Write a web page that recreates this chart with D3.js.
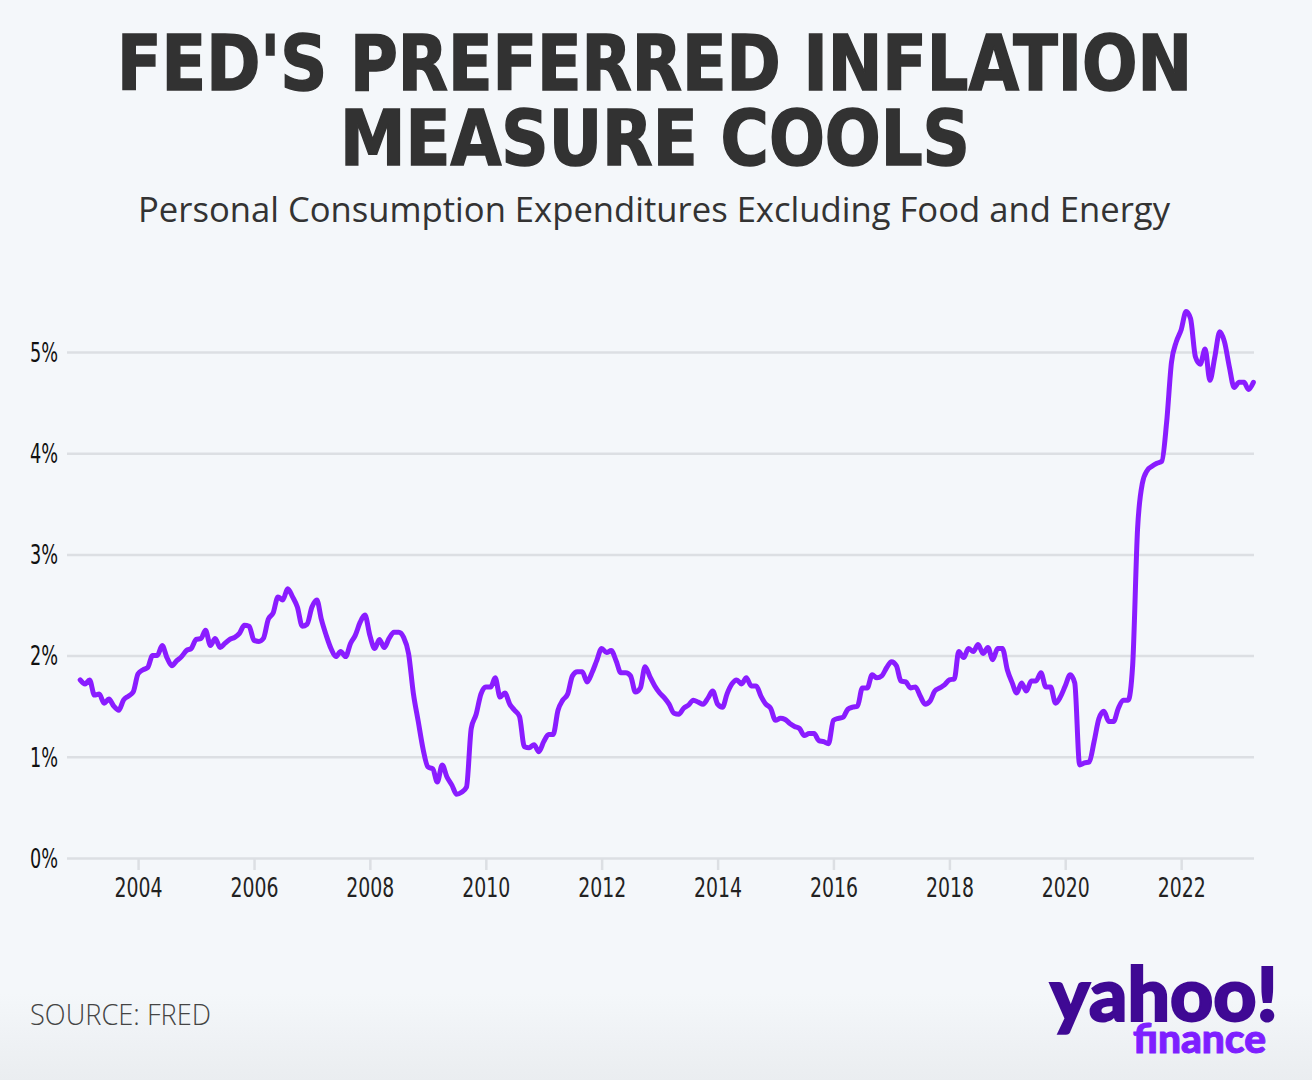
<!DOCTYPE html>
<html>
<head>
<meta charset="utf-8">
<script src="https://cdn.jsdelivr.net/npm/d3@7"></script>
<style>
  html, body { margin: 0; padding: 0; background: #f4f7fa; }
  svg { display: block; }
</style>
</head>
<body>
<svg id="chart" width="1312" height="1080"></svg>
<script>
// ---- Data ----
const titleLines = ["FED'S PREFERRED INFLATION", "MEASURE COOLS"];
const subtitle = "Personal Consumption Expenditures Excluding Food and Energy";
const sourceText = "SOURCE: FRED";
const logoLines = ["yahoo!", "finance"];
const firstMonth = [2003, 0];  // Jan 2003, monthly series
const yTicks = [0, 1, 2, 3, 4, 5];
const yTickLabels = ["0%", "1%", "2%", "3%", "4%", "5%"];
const xTickYears = [2004, 2006, 2008, 2010, 2012, 2014, 2016, 2018, 2020, 2022];

// Core PCE, year-over-year %, monthly Jan 2003 .. Apr 2023
const v2003 = [1.76, 1.72, 1.76, 1.61, 1.62, 1.53, 1.57, 1.50, 1.46, 1.56, 1.60, 1.64];
const v2004 = [1.82, 1.86, 1.88, 2.00, 2.00, 2.10, 1.98, 1.90, 1.95, 1.99, 2.05, 2.07];
const v2005 = [2.16, 2.17, 2.25, 2.10, 2.17, 2.08, 2.12, 2.16, 2.18, 2.22, 2.30, 2.29];
const v2006 = [2.15, 2.14, 2.17, 2.36, 2.42, 2.58, 2.55, 2.66, 2.58, 2.48, 2.29, 2.31];
const v2007 = [2.48, 2.55, 2.36, 2.20, 2.07, 1.99, 2.04, 1.99, 2.12, 2.20, 2.33, 2.40];
const v2008 = [2.20, 2.07, 2.16, 2.08, 2.17, 2.23, 2.23, 2.18, 2.02, 1.63, 1.35, 1.08];
const v2009 = [0.90, 0.88, 0.75, 0.92, 0.80, 0.72, 0.63, 0.65, 0.70, 1.28, 1.42, 1.62];
const v2010 = [1.69, 1.69, 1.78, 1.59, 1.63, 1.52, 1.46, 1.40, 1.10, 1.09, 1.12, 1.05];
const v2011 = [1.15, 1.22, 1.22, 1.46, 1.56, 1.62, 1.80, 1.84, 1.84, 1.74, 1.83, 1.95];
const v2012 = [2.07, 2.03, 2.05, 1.95, 1.83, 1.83, 1.80, 1.64, 1.68, 1.89, 1.79, 1.70];
const v2013 = [1.63, 1.58, 1.52, 1.43, 1.42, 1.48, 1.51, 1.56, 1.54, 1.52, 1.58, 1.65];
const v2014 = [1.52, 1.49, 1.62, 1.72, 1.76, 1.72, 1.78, 1.70, 1.70, 1.60, 1.52, 1.48];
const v2015 = [1.36, 1.38, 1.37, 1.33, 1.30, 1.28, 1.21, 1.23, 1.23, 1.16, 1.15, 1.13];
const v2016 = [1.36, 1.38, 1.39, 1.47, 1.49, 1.50, 1.68, 1.68, 1.81, 1.78, 1.80, 1.88];
const v2017 = [1.94, 1.90, 1.75, 1.74, 1.68, 1.69, 1.60, 1.52, 1.55, 1.65, 1.68, 1.71];
const v2018 = [1.76, 1.77, 2.04, 1.98, 2.07, 2.04, 2.11, 2.02, 2.08, 1.96, 2.07, 2.07];
const v2019 = [1.86, 1.73, 1.63, 1.73, 1.65, 1.75, 1.75, 1.83, 1.69, 1.69, 1.53, 1.59];
const v2020 = [1.70, 1.81, 1.73, 0.92, 0.94, 0.95, 1.15, 1.38, 1.45, 1.35, 1.35, 1.48];
const v2021 = [1.56, 1.56, 1.90, 3.25, 3.70, 3.83, 3.87, 3.90, 3.92, 4.30, 4.90, 5.10];
const v2022 = [5.22, 5.40, 5.33, 4.95, 4.88, 5.03, 4.72, 4.95, 5.20, 5.10, 4.85, 4.65];
const v2023 = [4.70, 4.70, 4.63, 4.70];

const values = [].concat(v2003, v2004, v2005, v2006, v2007, v2008, v2009, v2010,
  v2011, v2012, v2013, v2014, v2015, v2016, v2017, v2018, v2019, v2020, v2021, v2022, v2023);
const series = values.map((v, i) => ({ date: new Date(firstMonth[0], firstMonth[1] + i, 1), value: v }));

// ---- Drawing ----
const svg = d3.select("#chart");
const W = 1312, H = 1080;

const defs = svg.append("defs");
const grad = defs.append("linearGradient").attr("id", "bg").attr("x1", 0).attr("y1", 0).attr("x2", 0).attr("y2", 1);
grad.append("stop").attr("offset", "0.92").attr("stop-color", "#f4f7fa");
grad.append("stop").attr("offset", "1").attr("stop-color", "#eaedf0");
svg.append("rect").attr("width", W).attr("height", H).attr("fill", "url(#bg)");

// Title (one text block, two lines)
const titleFont = "'DejaVu Sans Condensed', 'DejaVu Sans', sans-serif";
const titleGeom = [{ x: 117, w: 1075, y: 90 }, { x: 340, w: 630, y: 165 }];
const title = svg.append("text")
  .style("font-family", titleFont).style("font-weight", 700)
  .style("font-size", "76px").style("fill", "#323232")
  .style("stroke", "#323232").style("stroke-width", 1.5);
titleLines.forEach((t, i) => {
  title.append("tspan")
    .attr("x", titleGeom[i].x).attr("y", titleGeom[i].y)
    .attr("textLength", titleGeom[i].w).attr("lengthAdjust", "spacingAndGlyphs")
    .text(t);
});

svg.append("text")
  .attr("x", 138).attr("y", 222)
  .attr("textLength", 1032).attr("lengthAdjust", "spacingAndGlyphs")
  .style("font-family", "'Open Sans', sans-serif").style("font-weight", 400)
  .style("font-size", "35px").style("fill", "#333")
  .text(subtitle);

// Scales
const x = d3.scaleTime()
  .domain([new Date(2002, 9, 10), new Date(2023, 3, 5)])
  .range([67, 1254]);
const y = d3.scaleLinear().domain([0, 5]).range([858, 352]);

const tickFont = "'DejaVu Sans Condensed', sans-serif";

// Gridlines + y labels
const yAxis = d3.axisLeft(y).tickValues(yTicks).tickSize(-(1254 - 67))
  .tickFormat((d, i) => yTickLabels[i]);
const gy = svg.append("g").attr("transform", "translate(67,0)").call(yAxis);
gy.select(".domain").remove();
gy.selectAll(".tick line").attr("stroke", "#dcdfe3").attr("stroke-width", 2.5);
gy.selectAll(".tick text")
  .attr("x", -9).attr("dy", "0.36em")
  .attr("textLength", 28).attr("lengthAdjust", "spacingAndGlyphs")
  .style("font-family", tickFont)
  .style("font-size", "26px").style("fill", "#111");

// X axis ticks
const xAxis = d3.axisBottom(x)
  .tickValues(xTickYears.map(yr => new Date(yr, 0, 1)))
  .tickSize(12).tickPadding(8)
  .tickFormat(d3.timeFormat("%Y"));
const gx = svg.append("g").attr("transform", "translate(0,858)").call(xAxis);
gx.select(".domain").remove();
gx.selectAll(".tick line").attr("stroke", "#dcdfe3").attr("stroke-width", 2.5);
gx.selectAll(".tick text")
  .attr("textLength", 48).attr("lengthAdjust", "spacingAndGlyphs")
  .style("font-family", tickFont)
  .style("font-size", "27px").style("fill", "#222");

// Line
const line = d3.line()
  .x(d => x(d.date)).y(d => y(d.value))
  .curve(d3.curveMonotoneX);
svg.append("path")
  .datum(series)
  .attr("d", line)
  .attr("fill", "none")
  .attr("stroke", "#8a1cff")
  .attr("stroke-width", 5)
  .attr("stroke-linejoin", "round")
  .attr("stroke-linecap", "round");

// Source
svg.append("text")
  .attr("x", 30).attr("y", 1025)
  .attr("textLength", 181).attr("lengthAdjust", "spacingAndGlyphs")
  .style("font-family", "'Open Sans', sans-serif").style("font-weight", 300)
  .style("font-size", "29px").style("fill", "#444")
  .text(sourceText);

// Logo (one text block, two lines)
const logo = svg.append("text")
  .style("font-family", "Lato, 'Open Sans', sans-serif").style("font-weight", 900);
logo.append("tspan")
  .attr("x", 1050).attr("y", 1021)
  .attr("textLength", 228).attr("lengthAdjust", "spacingAndGlyphs")
  .style("font-size", "74px").style("fill", "#3f0994")
  .style("stroke", "#3f0994").style("stroke-width", 2)
  .text(logoLines[0]);
logo.append("tspan")
  .attr("x", 1133).attr("y", 1053)
  .attr("textLength", 133).attr("lengthAdjust", "spacingAndGlyphs")
  .style("font-size", "40px").style("fill", "#7e1fff")
  .style("stroke", "#7e1fff").style("stroke-width", 1)
  .text(logoLines[1]);
</script>
</body>
</html>
